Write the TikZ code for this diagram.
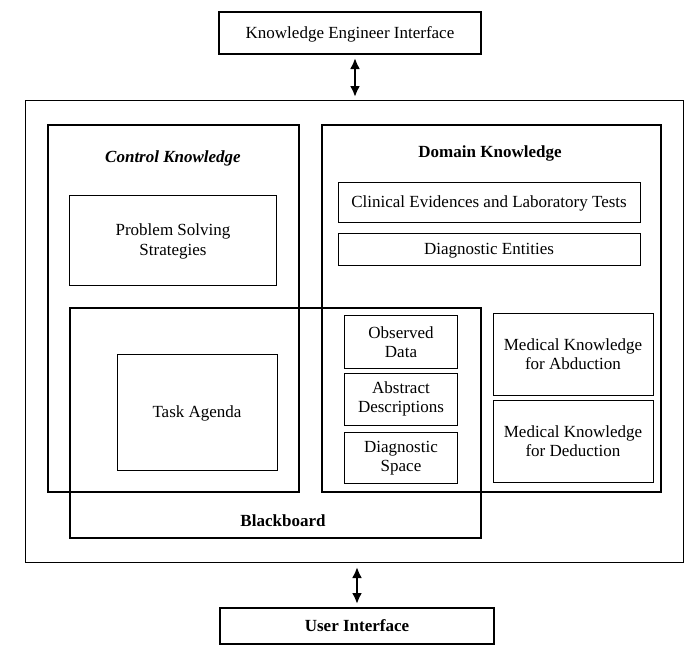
\documentclass[tikz,border=0pt]{standalone}
\usepackage{fontspec}
\setmainfont{Liberation Serif}
\usetikzlibrary{arrows.meta}
\begin{document}
\begin{tikzpicture}[x=1pt,y=-1pt,
  txt/.style={font=\fontsize{17}{19.5}\selectfont},
  thinbox/.style={draw, line width=0.8pt, inner sep=0pt, align=center, txt},
  thickbox/.style={draw, line width=1.8pt, inner sep=0pt, txt, text depth=0pt},
  oneline/.style={text depth=0pt},
  title/.style={font=\fontsize{17}{19.5}\selectfont\bfseries},
  link/.style={line width=2.4pt, {Latex[length=11pt,width=10pt]}-{Latex[length=11pt,width=10pt]}}
]
\useasboundingbox (0,0) rectangle (685,654);

% interfaces
\node[thickbox, minimum width=262pt, minimum height=42pt] (ke) at (350,33) {Knowledge Engineer Interface};
\node[thickbox, minimum width=274pt, minimum height=36pt, font=\fontsize{17}{19.5}\selectfont\bfseries] (ui) at (357,626) {User Interface};

% whole system
\node[draw, line width=0.8pt, minimum width=658pt, minimum height=462pt, inner sep=0pt] (sys) at (354,331) {};

% control knowledge
\draw[line width=1.8pt] (48,125) rectangle (299,492);
\node[title, font=\fontsize{17}{19.5}\selectfont\bfseries\itshape] (ckt) at (173,158) {Control Knowledge};
\node[thinbox, minimum width=207pt, minimum height=90pt, yshift=0pt] (pss) at (173,240) {\rule{0pt}{15pt}Problem Solving\\Strategies};

% domain knowledge
\draw[line width=1.8pt] (322,125) rectangle (661,492);
\node[title] (dkt) at (490,153) {Domain Knowledge};
\node[thinbox, oneline, minimum width=302pt, minimum height=40pt] (clin) at (489,202) {Clinical Evidences and Laboratory Tests};
\node[thinbox, oneline, minimum width=302pt, minimum height=32pt] (dent) at (489,249) {Diagnostic Entities};
\node[thinbox, minimum width=160pt, minimum height=82pt] (abd) at (573,354) {Medical Knowledge\\for Abduction};
\node[thinbox, minimum width=160pt, minimum height=82pt] (ded) at (573,441) {Medical Knowledge\\for Deduction};

% blackboard
\draw[line width=1.8pt] (70,308) rectangle (481,538);
\node[title] (bbt) at (283,521) {Blackboard};
\node[thinbox, oneline, minimum width=160pt, minimum height=116pt] (ta) at (197,412) {Task Agenda};
\node[thinbox, minimum width=113pt, minimum height=53pt] (obs) at (401,342) {Observed\\Data};
\node[thinbox, minimum width=113pt, minimum height=52pt] (abs) at (401,399) {Abstract\\Descriptions};
\node[thinbox, minimum width=113pt, minimum height=51pt] (dsp) at (401,458) {Diagnostic\\Space};

% connections to the interfaces
\coordinate (kein) at (355,58);
\coordinate (sysin) at (355,97);
\coordinate (sysout) at (357,567);
\coordinate (uiin) at (357,604);
\draw[link] (kein) -- (sysin);
\draw[link] (sysout) -- (uiin);
\end{tikzpicture}
\end{document}
